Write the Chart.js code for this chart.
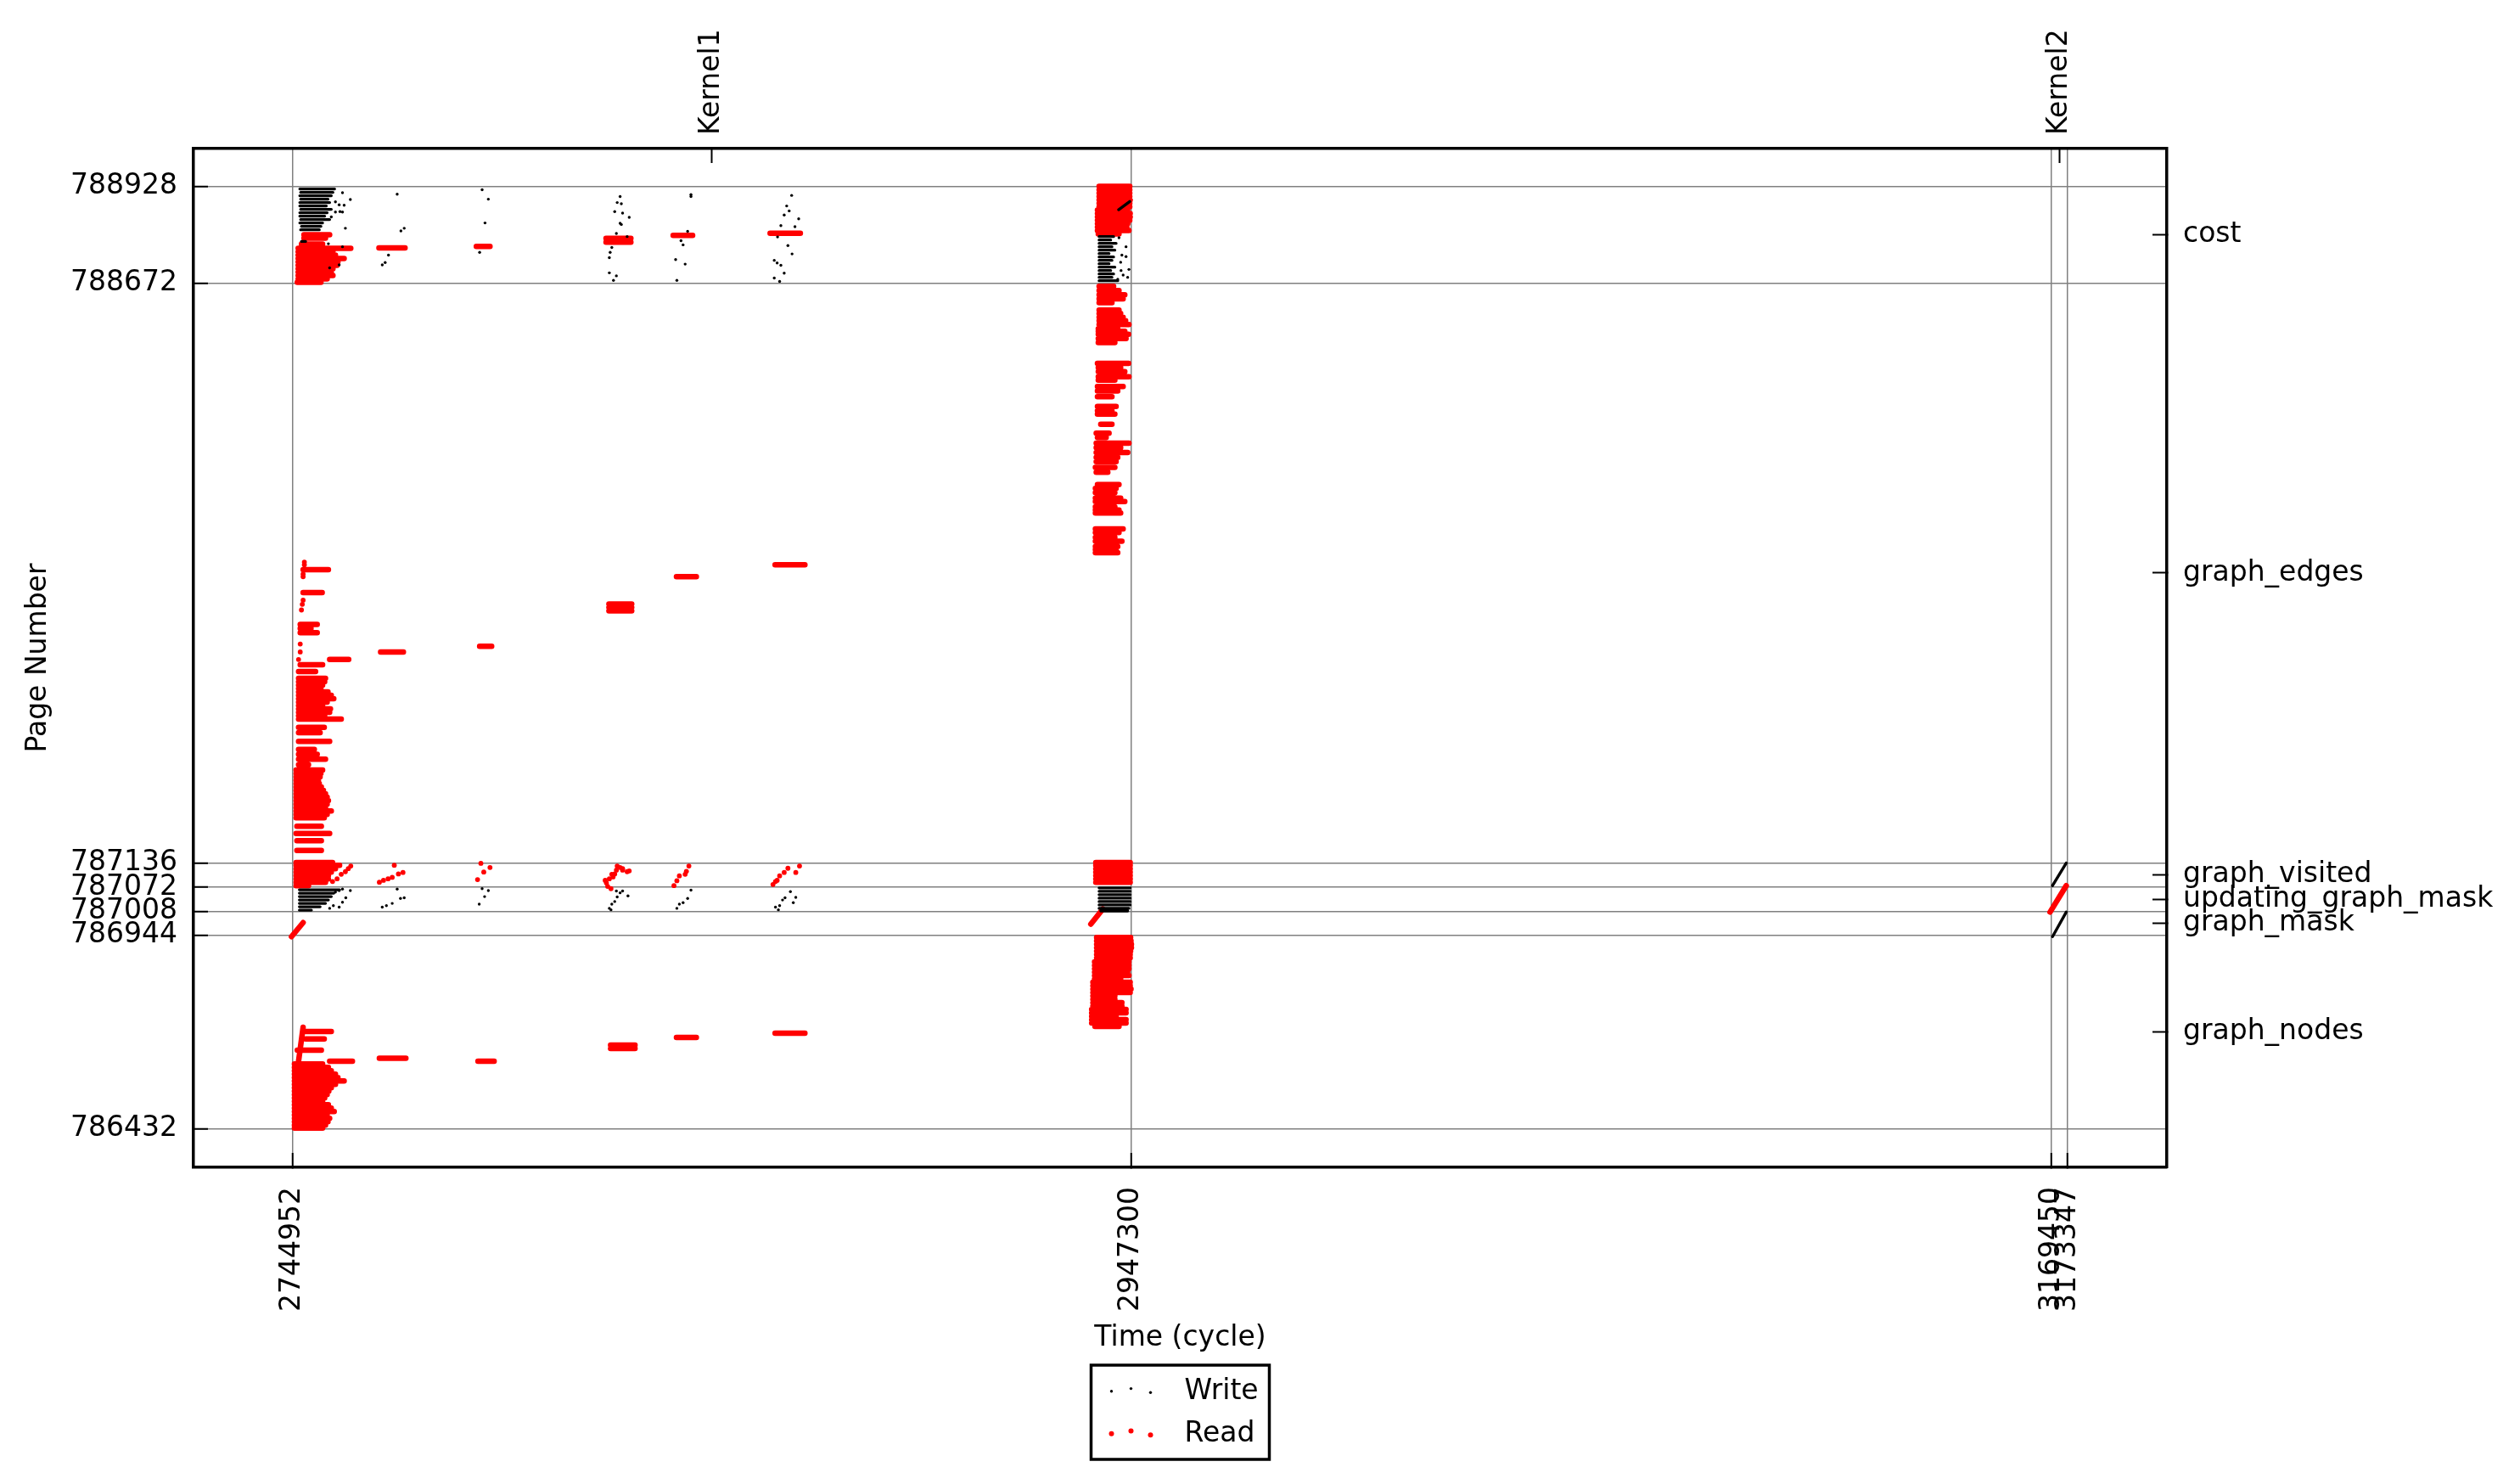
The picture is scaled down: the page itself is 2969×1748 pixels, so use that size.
<!DOCTYPE html>
<html>
<head>
<meta charset="utf-8">
<script src="https://cdn.jsdelivr.net/npm/chart.js@4.4.0/dist/chart.umd.min.js"></script>
<style>
  html, body { margin: 0; padding: 0; background: #fff; }
  canvas { display: block; }
</style>
</head>
<body>
<canvas id="pageChart" width="2969" height="1748"></canvas>
<script>
// Axis ticks and labels
const xTickValues = [2744952, 2947300, 3169450, 3173347];
const yTickValues = [786432, 786944, 787008, 787072, 787136, 788672, 788928];
const kernelNames = ['Kernel1', 'Kernel2'];
const kernelCycles = [2846126, 3171398];
const regionNames = ['graph_nodes', 'graph_mask', 'updating_graph_mask', 'graph_visited', 'graph_edges', 'cost'];
const regionMidPages = [786688, 786976, 787040, 787104, 787904, 788800];
const seriesNames = ['Write', 'Read'];

// Read accesses: runs of consecutive reads on one page [cycleStart, cycleEnd, page]
const readRunsCost = [
  [2747700, 2753900, 788800], [2747700, 2752900, 788791], [2747100, 2752200, 788775],
  [2746300, 2759000, 788764], [2746300, 2754700, 788755], [2746300, 2755300, 788746],
  [2746300, 2757400, 788737], [2746300, 2755900, 788728], [2746300, 2755700, 788719],
  [2746300, 2754700, 788710], [2746300, 2754300, 788701], [2746300, 2754700, 788692],
  [2746300, 2753300, 788683], [2746100, 2751800, 788674],
  [2765800, 2772100, 788765], [2789300, 2792600, 788769], [2820600, 2826600, 788790],
  [2820600, 2826600, 788780], [2836800, 2841500, 788798], [2860200, 2867500, 788804],
  [2939600, 2947000, 788928], [2939600, 2947000, 788919], [2939600, 2947000, 788910],
  [2939600, 2947000, 788901], [2939600, 2947100, 788892], [2939600, 2947000, 788883],
  [2939600, 2947000, 788874], [2939200, 2946500, 788865], [2939200, 2947100, 788856],
  [2939200, 2947100, 788847], [2939200, 2947000, 788838], [2939200, 2946500, 788829],
  [2939200, 2946300, 788820], [2939200, 2946800, 788811], [2939400, 2944400, 788802]
];
const readRunsEdges = [
  [2747500, 2753600, 787913], [2747500, 2752100, 787852], [2746800, 2750900, 787768],
  [2746800, 2749400, 787757], [2746800, 2750900, 787746], [2753900, 2758500, 787675],
  [2746800, 2752200, 787661], [2746400, 2750500, 787643],
  [2746400, 2752900, 787625], [2746400, 2752700, 787616], [2746400, 2752200, 787607],
  [2746400, 2751800, 787598], [2746400, 2753500, 787589], [2746400, 2754300, 787580],
  [2746400, 2754900, 787571], [2746400, 2753300, 787562], [2746400, 2752200, 787553],
  [2746400, 2754100, 787544], [2746400, 2753900, 787535], [2746400, 2752700, 787526],
  [2746400, 2756700, 787517], [2746400, 2752600, 787495], [2746400, 2751600, 787481],
  [2746400, 2753900, 787458], [2746400, 2750200, 787437], [2746400, 2750900, 787424],
  [2746400, 2752900, 787411], [2746400, 2748800, 787396],
  [2745800, 2752200, 787382], [2745800, 2751800, 787373], [2745800, 2751600, 787364],
  [2745800, 2751200, 787355], [2745800, 2751400, 787346], [2745800, 2751900, 787337],
  [2745800, 2752400, 787328], [2745800, 2752900, 787319], [2745800, 2753300, 787310],
  [2745800, 2753600, 787301], [2745800, 2753300, 787292], [2745800, 2752900, 787283],
  [2745800, 2754300, 787274], [2745800, 2753300, 787265], [2745800, 2752600, 787256],
  [2746000, 2751900, 787233], [2745800, 2753900, 787214], [2746000, 2751900, 787195],
  [2746000, 2751900, 787169],
  [2766200, 2771700, 787695], [2790100, 2793000, 787710], [2821300, 2826800, 787822],
  [2821300, 2826800, 787813], [2821300, 2826800, 787804], [2837600, 2842400, 787894],
  [2861400, 2868600, 787926],
  [2939600, 2943100, 788663], [2939600, 2944400, 788652], [2939600, 2945800, 788641],
  [2939600, 2945400, 788630], [2939600, 2942700, 788620], [2939600, 2944400, 788600],
  [2939600, 2944800, 788591], [2939600, 2945400, 788581], [2939600, 2946000, 788572],
  [2939600, 2946800, 788562], [2939400, 2944100, 788551], [2939400, 2945800, 788544],
  [2939400, 2946700, 788536], [2939400, 2946100, 788525], [2939400, 2943400, 788514],
  [2939200, 2946700, 788459], [2939400, 2944800, 788448], [2939400, 2945800, 788437],
  [2939400, 2946800, 788424], [2939400, 2943400, 788415], [2939200, 2945400, 788398],
  [2939200, 2944100, 788386], [2939200, 2942700, 788371], [2939200, 2943700, 788345],
  [2939200, 2942700, 788334], [2939200, 2943400, 788325], [2940000, 2942700, 788298],
  [2938900, 2942000, 788274], [2939200, 2941300, 788263], [2938900, 2946800, 788248],
  [2938900, 2944800, 788236], [2938900, 2946500, 788223], [2938900, 2944100, 788210],
  [2938900, 2943700, 788199], [2938700, 2943400, 788184], [2938900, 2941700, 788171],
  [2939200, 2944400, 788138], [2938700, 2943700, 788128], [2938700, 2943400, 788117],
  [2938700, 2944800, 788102], [2938700, 2945800, 788093], [2938700, 2943400, 788079],
  [2938700, 2944400, 788071], [2938700, 2944800, 788063], [2938700, 2945400, 788021],
  [2938700, 2944400, 788011], [2938700, 2943400, 787998], [2938700, 2945100, 787988],
  [2938700, 2944100, 787974], [2938700, 2943700, 787966], [2938700, 2944100, 787958]
];
const readRunsVisited = [
  [2745800, 2754600, 787137], [2745800, 2756300, 787130], [2745800, 2755300, 787121],
  [2745800, 2754300, 787112], [2745800, 2753600, 787103], [2745800, 2753600, 787094],
  [2745800, 2752900, 787085], [2745800, 2748800, 787076],
  [2938800, 2947100, 787137], [2938800, 2947100, 787130], [2938800, 2947100, 787121],
  [2938800, 2947100, 787112], [2938800, 2947100, 787103], [2938800, 2947100, 787094],
  [2938800, 2947100, 787085]
];
const readRunsNodes = [
  [2747500, 2754300, 786690], [2748100, 2752600, 786670], [2746100, 2751900, 786640],
  [2753900, 2759400, 786611],
  [2745400, 2752200, 786604], [2745400, 2753600, 786595], [2745400, 2754300, 786586],
  [2745400, 2755300, 786577], [2745400, 2755900, 786568], [2745400, 2757400, 786559],
  [2745400, 2755300, 786550], [2745400, 2754300, 786541], [2745400, 2753700, 786532],
  [2745400, 2753300, 786523], [2745400, 2752700, 786514], [2745400, 2752200, 786505],
  [2745400, 2753600, 786496], [2745400, 2754300, 786487], [2745400, 2755000, 786478],
  [2745400, 2753300, 786469], [2745400, 2753900, 786460], [2745400, 2753500, 786451],
  [2745400, 2752900, 786442], [2745400, 2752200, 786434],
  [2765900, 2772300, 786619], [2789700, 2793600, 786611], [2821700, 2827600, 786654],
  [2821700, 2827600, 786645], [2837600, 2842400, 786674], [2861400, 2868600, 786685],
  [2939000, 2947200, 786939], [2939000, 2947300, 786930], [2939000, 2947400, 786921],
  [2939000, 2947400, 786912], [2939000, 2947200, 786903], [2939000, 2947100, 786894],
  [2939000, 2947100, 786885], [2938500, 2946800, 786874], [2938500, 2946800, 786865],
  [2938500, 2946800, 786856], [2938500, 2946500, 786847], [2938500, 2946800, 786838],
  [2938500, 2944800, 786829], [2938100, 2947100, 786820], [2938100, 2947100, 786811],
  [2938100, 2947300, 786802], [2938100, 2947100, 786793], [2938100, 2943400, 786784],
  [2938100, 2943400, 786775], [2938100, 2945100, 786766], [2938100, 2945100, 786757],
  [2937800, 2946100, 786748], [2937800, 2946100, 786739], [2937800, 2943700, 786730],
  [2937800, 2946100, 786721], [2937800, 2946100, 786712], [2938600, 2944400, 786703]
];
// Read sweeps across pages [cycleStart, pageStart, cycleEnd, pageEnd]
const readStreaks = [
  [2744700, 786941, 2747500, 786978],
  [2747500, 786701, 2746400, 786611],
  [2937600, 786974, 2940500, 787014],
  [3169100, 787006, 3173000, 787076]
];
// Isolated reads [cycle, page]
const readDots = [
  [2747800, 787933], [2747800, 787926], [2747500, 787901], [2747500, 787894], [2747500, 787832],
  [2747300, 787821], [2747100, 787806], [2746800, 787716], [2746800, 787695], [2746400, 787675],
  [2759000, 787128], [2758400, 787121], [2757700, 787113], [2756700, 787106], [2755700, 787094],
  [2754600, 787087],
  [2769500, 787130], [2765900, 787085], [2766900, 787090], [2768000, 787094], [2769000, 787098],
  [2770500, 787107], [2771600, 787111],
  [2789600, 787092], [2791100, 787112], [2792600, 787124], [2790400, 787135],
  [2820700, 787083], [2821400, 787094], [2822000, 787106], [2823100, 787117], [2824000, 787124],
  [2824600, 787121], [2825700, 787113], [2823300, 787128], [2822300, 787099], [2821000, 787074],
  [2821800, 787068], [2820400, 787090], [2822700, 787107], [2824600, 787117], [2826200, 787115],
  [2837000, 787076], [2837700, 787089], [2838300, 787102], [2839700, 787106], [2840000, 787114],
  [2840600, 787128],
  [2860900, 787079], [2861900, 787090], [2862500, 787102], [2863600, 787111], [2864500, 787122],
  [2866400, 787111], [2867300, 787128], [2861500, 787087]
];

// Write accesses
const writeRuns = [
  [2746700, 2755100, 788921], [2746900, 2754700, 788912], [2746700, 2754300, 788903],
  [2746900, 2753500, 788894], [2746700, 2753900, 788885], [2746700, 2753100, 788876],
  [2746900, 2754300, 788867], [2746700, 2753300, 788858], [2746700, 2752700, 788849],
  [2746900, 2753900, 788840], [2746700, 2752200, 788831], [2747100, 2751800, 788822],
  [2746900, 2751400, 788813], [2747100, 2748100, 788782],
  [2746600, 2756300, 787065], [2746600, 2754900, 787056], [2746600, 2754300, 787047],
  [2746600, 2753600, 787038], [2746600, 2752900, 787029], [2746600, 2751600, 787020],
  [2746600, 2749500, 787011],
  [2939600, 2943100, 788795], [2939600, 2942400, 788786], [2939600, 2943700, 788777],
  [2939600, 2942700, 788768], [2939600, 2943400, 788759], [2939600, 2942000, 788750],
  [2939600, 2943100, 788741], [2939600, 2942700, 788732], [2939600, 2942000, 788723],
  [2939600, 2943400, 788714], [2939600, 2942400, 788705], [2939600, 2943100, 788696],
  [2939600, 2942700, 788687], [2939600, 2944100, 788678],
  [2939600, 2947100, 787070], [2939600, 2947100, 787061], [2939600, 2947100, 787052],
  [2939600, 2947100, 787043], [2939600, 2947100, 787034], [2939600, 2947100, 787025],
  [2939600, 2946800, 787016], [2940000, 2946500, 787009]
];
const writeStreaks = [
  [2944300, 788866, 2947000, 788888],
  [3169700, 787076, 3173000, 787136],
  [3169700, 786941, 3173000, 787006]
];
const writeDots = [
  [2757000, 788911], [2758900, 788893], [2756200, 788879], [2755300, 788887], [2757000, 788860],
  [2755300, 788860], [2754300, 788847], [2757700, 788817], [2757000, 788768], [2753900, 788712],
  [2756200, 788720], [2753600, 788776], [2757400, 788878], [2756400, 788861],
  [2770200, 788907], [2771900, 788817], [2771100, 788810], [2768100, 788746], [2767300, 788726],
  [2766600, 788720],
  [2790700, 788919], [2792200, 788894], [2791400, 788831], [2790100, 788753],
  [2824000, 788901], [2823300, 788885], [2824300, 788882], [2822700, 788861], [2824600, 788857],
  [2826200, 788846], [2824300, 788827], [2823100, 788803], [2822000, 788766], [2821600, 788753],
  [2821400, 788739], [2821400, 788699], [2823100, 788691], [2822400, 788679], [2825700, 788795],
  [2824000, 788830],
  [2841100, 788906], [2841100, 788901], [2840300, 788809], [2838700, 788784], [2839200, 788773],
  [2837400, 788734], [2839700, 788722], [2837700, 788679],
  [2865400, 788904], [2864200, 788876], [2864800, 788863], [2863600, 788852], [2867100, 788842],
  [2862800, 788824], [2866200, 788821], [2862000, 788794], [2864500, 788771], [2865500, 788749],
  [2861200, 788732], [2861900, 788725], [2862800, 788719], [2863600, 788698], [2861200, 788685],
  [2862500, 788676],
  [2753900, 787016], [2754800, 787023], [2756200, 787019], [2757000, 787032], [2757800, 787044],
  [2758900, 787063], [2757000, 787067], [2756200, 787063], [2755300, 787059],
  [2770200, 787067], [2766600, 787019], [2767600, 787023], [2769000, 787029], [2771000, 787042],
  [2771900, 787044],
  [2790000, 787027], [2791300, 787047], [2792200, 787063], [2790700, 787068],
  [2821400, 787016], [2822000, 787027], [2822700, 787034], [2823300, 787046], [2824000, 787057],
  [2824600, 787062], [2825900, 787049], [2823100, 787062], [2821800, 787012],
  [2837700, 787016], [2838300, 787027], [2839200, 787031], [2840300, 787042], [2841100, 787064],
  [2861500, 787019], [2862500, 787023], [2863200, 787038], [2863800, 787044], [2865100, 787060],
  [2866400, 787045], [2865800, 787031], [2862200, 787012],
  [2944400, 788792], [2946100, 788768], [2945100, 788746], [2946100, 788742], [2944800, 788727],
  [2946800, 788708], [2944900, 788705], [2945400, 788693], [2946500, 788687], [2944100, 788682]
];

function runPoints(runs) {
  const pts = [];
  runs.forEach(([c0, c1, page]) => {
    pts.push({ x: c0, y: page }, { x: c1, y: page }, { x: null, y: null });
  });
  return pts;
}

function streakPoints(streaks) {
  const pts = [];
  streaks.forEach(([c0, p0, c1, p1]) => {
    pts.push({ x: c0, y: p0 }, { x: c1, y: p1 }, { x: null, y: null });
  });
  return pts;
}

function dotPoints(dots) {
  return dots.map(([c, p]) => ({ x: c, y: p }));
}

const readRuns = readRunsCost.concat(readRunsEdges, readRunsVisited, readRunsNodes);

Chart.defaults.font.family = "'DejaVu Sans', sans-serif";
Chart.defaults.font.size = 33;
Chart.defaults.color = '#000';

// Legend drawn as a framed box under the x axis title
const legendBox = {
  id: 'legendBox',
  afterDraw(chart) {
    const c = chart.ctx;
    const area = chart.chartArea;
    const boxW = 210, boxH = 111;
    const left = (area.left + area.right) / 2 - boxW / 2;
    const top = area.bottom + 233;
    const items = [
      { label: seriesNames[0], color: '#000', r: 1.7 },
      { label: seriesNames[1], color: '#ff0000', r: 3 }
    ];
    const jitter = [0.7, -2.4, 2.2];
    c.save();
    c.strokeStyle = '#000';
    c.lineWidth = 3.5;
    c.strokeRect(left, top, boxW, boxH);
    items.forEach((item, i) => {
      const rowY = top + 30 + i * 50;
      jitter.forEach((dy, k) => {
        c.beginPath();
        c.arc(left + 24 + k * 23, rowY + dy, item.r, 0, Math.PI * 2);
        c.fillStyle = item.color;
        c.fill();
      });
      c.fillStyle = '#000';
      c.font = "33px 'DejaVu Sans'";
      c.textBaseline = 'alphabetic';
      c.fillText(item.label, left + 110, rowY + 10);
    });
    c.restore();
  }
};

const gridGray = '#808080';

new Chart(document.getElementById('pageChart').getContext('2d'), {
  type: 'scatter',
  data: {
    datasets: [
      { label: 'Write', data: runPoints(writeRuns).concat(streakPoints(writeStreaks)), showLine: true,
        borderColor: '#000', borderWidth: 3.4, borderCapStyle: 'round', borderJoinStyle: 'round', pointRadius: 0 },
      { label: 'Write', data: dotPoints(writeDots), backgroundColor: '#000', borderWidth: 0, pointRadius: 1.7 },
      { label: 'Read', data: runPoints(readRuns).concat(streakPoints(readStreaks)), showLine: true,
        borderColor: '#ff0000', borderWidth: 6.5, borderCapStyle: 'round', borderJoinStyle: 'round', pointRadius: 0 },
      { label: 'Read', data: dotPoints(readDots), backgroundColor: '#ff0000', borderWidth: 0, pointRadius: 2.9 }
    ]
  },
  options: {
    responsive: false,
    animation: false,
    devicePixelRatio: 1,
    events: [],
    layout: { padding: 0 },
    plugins: { legend: { display: false }, tooltip: { enabled: false } },
    scales: {
      x: {
        type: 'linear', position: 'bottom', min: 2721050, max: 3197300,
        afterBuildTicks: s => { s.ticks = xTickValues.map(v => ({ value: v })); },
        afterFit: s => { s.height = 373; },
        ticks: { autoSkip: false, minRotation: 90, maxRotation: 90, padding: 40, callback: v => String(v) },
        grid: { color: gridGray, lineWidth: 1.5, tickLength: -17, tickColor: '#000', tickWidth: 2 },
        border: { color: '#000', width: 3.5 },
        title: { display: true, text: 'Time (cycle)', padding: { top: 0, bottom: 152 } }
      },
      xTop: {
        type: 'linear', position: 'top', min: 2721050, max: 3197300,
        afterBuildTicks: s => { s.ticks = kernelCycles.map(v => ({ value: v })); },
        afterFit: s => { s.height = 175; },
        ticks: { autoSkip: false, minRotation: 90, maxRotation: 90, padding: 33, labelOffset: 39.6,
                 callback: (v, i) => kernelNames[i] },
        grid: { drawOnChartArea: false, tickLength: -17, color: '#000', tickColor: '#000', tickWidth: 2 },
        border: { color: '#000', width: 3.5 }
      },
      y: {
        type: 'linear', position: 'left', min: 786330, max: 789028,
        afterBuildTicks: s => { s.ticks = yTickValues.map(v => ({ value: v })); },
        afterFit: s => { s.width = 228; },
        ticks: { autoSkip: false, padding: 36, callback: v => String(v) },
        grid: { color: gridGray, lineWidth: 1.5, tickLength: -17, tickColor: '#000', tickWidth: 2 },
        border: { color: '#000', width: 3.5 },
        title: { display: true, text: 'Page Number', padding: { top: 26, bottom: 0 } }
      },
      yRight: {
        type: 'linear', position: 'right', min: 786330, max: 789028,
        afterBuildTicks: s => { s.ticks = regionMidPages.map(v => ({ value: v })); },
        afterFit: s => { s.width = 416; },
        ticks: { autoSkip: false, padding: 36, callback: (v, i) => regionNames[i] },
        grid: { drawOnChartArea: false, tickLength: -17, color: '#000', tickColor: '#000', tickWidth: 2 },
        border: { color: '#000', width: 3.5 }
      }
    }
  },
  plugins: [legendBox]
});
</script>
</body>
</html>
